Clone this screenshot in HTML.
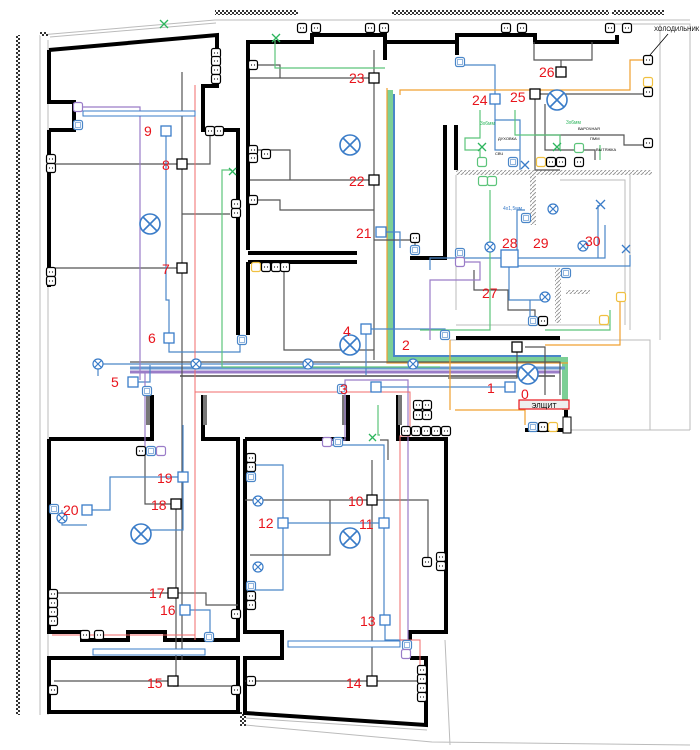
<!DOCTYPE html>
<html><head><meta charset="utf-8"><style>
html,body{margin:0;padding:0;background:#fff}
svg{display:block}
text{font-family:"Liberation Sans","DejaVu Sans",sans-serif}
.n{fill:#e8141c;font-size:14px}
.w{fill:none;stroke:#000;stroke-width:4;stroke-linejoin:miter}
.g{fill:none;stroke:#bbb;stroke-width:1}
.k{fill:none;stroke:#555;stroke-width:1.2}
.b{fill:none;stroke:#4a86c8;stroke-width:1.2}
.gr{fill:none;stroke:#5cc47a;stroke-width:1.2}
.p{fill:none;stroke:#9a7cc8;stroke-width:1.2}
.r{fill:none;stroke:#f26b6b;stroke-width:1}
.o{fill:none;stroke:#f0a030;stroke-width:1.2}
</style></head><body>
<svg width="700" height="750" viewBox="0 0 700 750" xmlns="http://www.w3.org/2000/svg">
<defs>
<pattern id="h" width="4" height="4" patternUnits="userSpaceOnUse"><rect width="4" height="4" fill="#fff"/><rect width="2" height="2" fill="#333"/><rect x="2" y="2" width="2" height="2" fill="#333"/></pattern>
<pattern id="d" width="4" height="4" patternUnits="userSpaceOnUse"><rect width="4" height="4" fill="#fff"/><path d="M0 4L4 0" stroke="#999" stroke-width="1"/></pattern>
<g id="s"><rect x="-4.5" y="-4.5" width="9" height="9" rx="2" fill="#fff" stroke="#000" stroke-width="1.2"/><circle cx="-1.5" cy="0" r=".6"/><circle cx="1.5" cy="0" r=".6"/></g>
<g id="sb"><rect x="-4.5" y="-4.5" width="9" height="9" rx="2" fill="#fff" stroke="#4a86c8" stroke-width="1.2"/><rect x="-2.5" y="-2.5" width="5" height="5" fill="none" stroke="#4a86c8" stroke-width=".6"/></g>
<g id="sp"><rect x="-4.5" y="-4.5" width="9" height="9" rx="2" fill="#fff" stroke="#9a7cc8" stroke-width="1.2"/></g>
<g id="sg"><rect x="-4.5" y="-4.5" width="9" height="9" rx="2" fill="#fff" stroke="#5cc47a" stroke-width="1.2"/></g>
<g id="sy"><rect x="-4.5" y="-4.5" width="9" height="9" rx="2" fill="#fff" stroke="#f0c040" stroke-width="1.2"/></g>
<g id="L"><circle r="10" fill="#fff" stroke="#3a7cc8" stroke-width="1.6"/><path d="M-7-7L7 7M7-7L-7 7" stroke="#3a7cc8" stroke-width="1.6"/></g>
<g id="l"><circle r="5" fill="#fff" stroke="#3a7cc8" stroke-width="1.2"/><path d="M-3.5-3.5L3.5 3.5M3.5-3.5L-3.5 3.5" stroke="#3a7cc8" stroke-width="1.2"/></g>
</defs>
<path class="g" d="M40 35L215 20M50 37L216 23M40 35V715M48 40V715M245 718L427 730M245 725L432 742L690 745M445 640L450 745M215 20H690M612 24H690V430M660 24V340M450 340H650V430M570 430H690"/>
<rect x="16" y="35" width="4" height="680" fill="url(#h)"/>
<rect x="215" y="10" width="83" height="5" fill="url(#h)"/>
<rect x="392" y="10" width="217" height="5" fill="url(#h)"/>
<rect x="612" y="10" width="52" height="5" fill="url(#h)"/>
<rect x="40" y="32" width="8" height="4" fill="url(#h)"/>
<rect x="240" y="712" width="6" height="14" fill="url(#h)"/>
<rect x="456" y="170" width="196" height="5" fill="url(#d)"/>
<rect x="530" y="175" width="6" height="50" fill="url(#d)"/>
<rect x="555" y="268" width="6" height="55" fill="url(#d)"/>
<rect x="566" y="290" width="24" height="4" fill="url(#d)"/>
<path class="g" d="M456 175V310M456 325H610M560 180H625V325M630 175V330"/>
<path class="w" d="M49 130V287M49 50L217 35V86H203V130H238V335M49 50V102H74V130H49"/>
<path class="w" d="M248 250V42H312V35H385V42H457V35M457 42V35H535V42H617V35"/>
<path class="w" d="M248 253H357M248 262H357M248 262V335"/>
<path class="w" d="M385 35V60M312 42V35M445 125V258H410M456 125V170M457 55V42"/>
<path class="w" d="M456 338H560M566 400V430H525"/>
<path class="w" d="M49 439H152V395M203 395V439H238V640H165V632H128V640H82V632H49V439"/>
<path class="w" d="M245 439H348V395M398 395V439H446V632H410V640M245 439V632H282V658H245V713L426 725V658H410"/>
<path class="w" d="M49 658H238V712H49Z"/>
<rect x="146" y="395" width="4" height="30" fill="#777"/><rect x="203" y="395" width="4" height="30" fill="#777"/>
<rect x="342" y="395" width="4" height="30" fill="#777"/><rect x="398" y="395" width="4" height="30" fill="#777"/>
<path d="M390 90V360H565V410" fill="none" stroke="#7ccf95" stroke-width="6"/>
<path d="M394 94V356H561" fill="none" stroke="#4a86c8" stroke-width="2"/>
<path d="M387 88V363H568" fill="none" stroke="#f0a030" stroke-width="1.2"/>
<path d="M130 368H565" fill="none" stroke="#6a9ad0" stroke-width="3"/>
<path d="M130 372H560" fill="none" stroke="#9a7cc8" stroke-width="3"/>
<path d="M180 376H555" fill="none" stroke="#777" stroke-width="2"/>
<path class="k" d="M130 362H560V395"/>
<path class="k" d="M182 72V660M182 164H210V130M50 164H182M50 268H182M182 214H230M176 504V681M54 681H176M145 450V504H176M173 593H54M173 593H206V605H238M173 686H238"/>
<path class="k" d="M374 50V180M374 78H250M252 65H280V78M374 180H250M258 150H290V180H374M374 180V240H415V248M258 200H280V210H374M284 265V350H374M374 200V360"/>
<path class="k" d="M372 460V681M372 500H245M372 500H428V560M330 500V555H250M372 681H245M372 681H420M380 440H388V460"/>
<path class="k" d="M561 60V72M534 42V60H592V42M561 72V60M535 94H645M535 94V170H560M545 104V150H595V160M535 135H624V145H645M517 347V378H448M525 347H545V395"/>
<path class="k" d="M474 270V290H508V310H535V320"/>
<path class="b" d="M166 131V300H169V338M88 114H166M169 338V352H240V340M96 364H340M133 382H150V365M98 364V376"/>
<path class="b" d="M183 477V425M183 477H110V510H87M183 477V530H150M62 510V525H87M183 610H210V632"/>
<path class="b" d="M283 523H384M283 523V465H250M283 523V590H250M384 523V445H330M384 523V620M385 620V640H405"/>
<path class="b" d="M381 232H400V248M366 329H445V335M366 329V375M376 387H510M495 99V150H520V160M495 99V65H462M495 120H520V170"/>
<path class="b" d="M509 258H430V270M509 258H605V225M509 258H598V205M517 258V210H525M509 266H630V255M509 266V300H545M530 300V320"/>
<path class="gr" d="M275 40V68H385M232 170H222V367H440M480 110V138H465V150H480V160M515 110V135H560V150M490 190V330H420M600 145V160M545 330H610V310"/>
<path class="gr" d="M378 405V435H380"/>
<path class="p" d="M80 107H140V380M145 450V372M325 440H345V380H408V640H405M460 262H480V280H430V340"/>
<path class="r" d="M195 85V392H410V436M195 392V640M410 436H400V640H420V700M52 635H195"/>
<path class="o" d="M645 60H630V90H400V95M545 345H620V300M455 410H525V425M450 410V340"/>
<g stroke="#2db55d" stroke-width="1.3" fill="none"><path d="M160 20l8 8M168 20l-8 8M272 34l8 8M280 34l-8 8M229 168l7 7M236 168l-7 7M369 434l7 7M376 434l-7 7M478 143l8 8M486 143l-8 8M553 143l8 8M561 143l-8 8"/></g>
<g stroke="#3a7cc8" stroke-width="1.3" fill="none"><path d="M521 161l8 8M529 161l-8 8M596 200l9 9M605 200l-9 9M622 245l8 8M630 245l-8 8"/></g>
<use href="#L" x="150" y="224"/><use href="#L" x="350" y="145"/><use href="#L" x="350" y="345"/>
<use href="#L" x="141" y="534"/><use href="#L" x="350" y="538"/><use href="#L" x="557" y="100"/><use href="#L" x="528" y="374"/>
<use href="#l" x="98" y="364"/><use href="#l" x="196" y="364"/><use href="#l" x="413" y="364"/><use href="#l" x="308" y="364"/>
<use href="#l" x="490" y="247"/><use href="#l" x="545" y="297"/><use href="#l" x="553" y="209"/><use href="#l" x="583" y="246"/>
<use href="#l" x="258" y="501"/><use href="#l" x="258" y="567"/><use href="#l" x="62" y="518"/>
<use href="#s" x="216" y="53"/><use href="#s" x="216" y="61"/><use href="#s" x="216" y="70"/><use href="#s" x="216" y="79"/>
<use href="#s" x="210" y="131"/><use href="#s" x="219" y="131"/><use href="#s" x="51" y="159"/><use href="#s" x="51" y="168"/>
<use href="#s" x="51" y="272"/><use href="#s" x="51" y="281"/><use href="#s" x="236" y="204"/><use href="#s" x="236" y="213"/>
<use href="#s" x="253" y="65"/><use href="#s" x="253" y="150"/><use href="#s" x="253" y="158"/><use href="#s" x="266" y="154"/><use href="#s" x="253" y="200"/>
<use href="#sy" x="256" y="267"/><use href="#s" x="266" y="267"/><use href="#s" x="276" y="267"/><use href="#s" x="285" y="267"/>
<use href="#s" x="302" y="28"/><use href="#s" x="316" y="28"/><use href="#s" x="370" y="28"/><use href="#s" x="384" y="28"/>
<use href="#s" x="506" y="28"/><use href="#s" x="522" y="28"/><use href="#s" x="610" y="28"/><use href="#s" x="627" y="28"/>
<use href="#s" x="648" y="60"/><use href="#sy" x="648" y="82"/><use href="#s" x="648" y="92"/><use href="#s" x="648" y="143"/>
<use href="#s" x="415" y="238"/><use href="#sb" x="460" y="62"/><use href="#sb" x="415" y="250"/><use href="#sb" x="460" y="253"/><use href="#sp" x="460" y="262"/>
<use href="#sg" x="482" y="162"/><use href="#sb" x="513" y="162"/><use href="#sy" x="541" y="162"/><use href="#s" x="551" y="162"/><use href="#s" x="561" y="162"/><use href="#s" x="579" y="162"/><use href="#sg" x="579" y="148"/>
<use href="#sg" x="483" y="181"/><use href="#sg" x="492" y="181"/><use href="#sb" x="526" y="218"/><use href="#sb" x="566" y="273"/>
<use href="#sb" x="533" y="321"/><use href="#s" x="543" y="321"/><use href="#sy" x="604" y="320"/><use href="#sy" x="621" y="297"/><use href="#sb" x="445" y="335"/>
<use href="#sb" x="242" y="340"/><use href="#sb" x="78" y="125"/><use href="#sp" x="78" y="107"/><use href="#sb" x="147" y="391"/>
<use href="#s" x="418" y="405"/><use href="#s" x="427" y="405"/><use href="#s" x="418" y="415"/><use href="#s" x="427" y="415"/>
<use href="#s" x="406" y="431"/><use href="#s" x="416" y="431"/><use href="#s" x="426" y="431"/><use href="#s" x="436" y="431"/><use href="#s" x="446" y="431"/><use href="#sb" x="342" y="389"/>
<use href="#sb" x="533" y="427"/><use href="#s" x="543" y="427"/><use href="#sy" x="553" y="427"/>
<use href="#s" x="141" y="451"/><use href="#sb" x="151" y="451"/><use href="#sp" x="161" y="451"/><use href="#sb" x="54" y="509"/>
<use href="#s" x="53" y="594"/><use href="#s" x="53" y="603"/><use href="#s" x="53" y="612"/><use href="#s" x="53" y="621"/>
<use href="#s" x="85" y="635"/><use href="#s" x="99" y="635"/><use href="#s" x="236" y="614"/><use href="#sb" x="209" y="637"/>
<use href="#s" x="53" y="690"/><use href="#s" x="236" y="690"/>
<use href="#sp" x="327" y="442"/><use href="#sb" x="338" y="442"/><use href="#s" x="251" y="458"/><use href="#s" x="251" y="467"/><use href="#sb" x="251" y="477"/>
<use href="#sb" x="251" y="586"/><use href="#s" x="251" y="596"/><use href="#s" x="251" y="605"/><use href="#s" x="427" y="562"/><use href="#s" x="441" y="557"/><use href="#s" x="441" y="566"/>
<use href="#sb" x="407" y="645"/><use href="#sp" x="406" y="654"/><use href="#s" x="251" y="681"/>
<use href="#s" x="422" y="670"/><use href="#s" x="422" y="679"/><use href="#s" x="422" y="688"/><use href="#s" x="422" y="697"/>
<rect x="83" y="111" width="112" height="5" fill="#fff" stroke="#3a7cc8"/>
<rect x="93" y="649" width="112" height="6" fill="#fff" stroke="#3a7cc8"/>
<rect x="288" y="641" width="112" height="6" fill="#fff" stroke="#3a7cc8"/>
<g fill="#fff" stroke="#000" stroke-width="1.3">
<rect x="369" y="73" width="10" height="10"/><rect x="369" y="175" width="10" height="10"/><rect x="177" y="159" width="10" height="10"/>
<rect x="177" y="263" width="10" height="10"/><rect x="171" y="499" width="10" height="10"/><rect x="168" y="588" width="10" height="10"/>
<rect x="168" y="676" width="10" height="10"/><rect x="367" y="495" width="10" height="10"/><rect x="367" y="676" width="10" height="10"/>
<rect x="556" y="67" width="10" height="10"/><rect x="530" y="89" width="10" height="10"/><rect x="512" y="342" width="10" height="10"/>
</g>
<g fill="#fff" stroke="#3a7cc8" stroke-width="1.3">
<rect x="161" y="126" width="10" height="10"/><rect x="164" y="333" width="10" height="10"/><rect x="128" y="377" width="10" height="10"/>
<rect x="376" y="227" width="10" height="10"/><rect x="490" y="94" width="10" height="10"/><rect x="178" y="472" width="10" height="10"/>
<rect x="82" y="505" width="10" height="10"/><rect x="278" y="518" width="10" height="10"/><rect x="379" y="518" width="10" height="10"/>
<rect x="380" y="615" width="10" height="10"/><rect x="180" y="605" width="10" height="10"/><rect x="361" y="324" width="10" height="10"/>
<rect x="371" y="382" width="10" height="10"/><rect x="505" y="382" width="10" height="10"/><rect x="501" y="250" width="17" height="17"/>
</g>
<rect x="519" y="400" width="50" height="9" fill="#eee" stroke="#e8141c" stroke-width="1.2"/>
<text x="544" y="408" font-size="7" text-anchor="middle">ЭЛЩИТ</text>
<rect x="563" y="417" width="8" height="16" fill="#fff" stroke="#000"/>
<text x="654" y="31" font-size="6">ХОЛОДИЛЬНИК</text>
<path d="M668 34L650 55" stroke="#000" stroke-width=".8"/>
<text x="480" y="125" font-size="5" fill="#2db55d">3x6мм</text><text x="566" y="124" font-size="5" fill="#2db55d">3x6мм</text>
<text x="498" y="140" font-size="4">ДУХОВКА</text><text x="578" y="130" font-size="4">ВАРОЧНАЯ</text><text x="590" y="140" font-size="4">ПММ</text><text x="596" y="151" font-size="4">ВЫТЯЖКА</text><text x="495" y="155" font-size="4">СВЧ</text>
<text x="503" y="210" font-size="5" fill="#3a7cc8">4x1,5мм</text>
<g class="n">
<text x="521" y="399">0</text><text x="487" y="393">1</text><text x="402" y="350">2</text><text x="340" y="394">3</text><text x="343" y="336">4</text>
<text x="111" y="387">5</text><text x="148" y="343">6</text><text x="162" y="274">7</text><text x="162" y="170">8</text><text x="144" y="136">9</text>
<text x="348" y="506">10</text><text x="359" y="529">11</text><text x="258" y="528">12</text><text x="360" y="626">13</text><text x="346" y="688">14</text>
<text x="147" y="688">15</text><text x="160" y="615">16</text><text x="149" y="598">17</text><text x="151" y="510">18</text><text x="157" y="483">19</text>
<text x="63" y="515">20</text><text x="356" y="238">21</text><text x="349" y="186">22</text><text x="349" y="83">23</text><text x="472" y="105">24</text>
<text x="510" y="102">25</text><text x="539" y="77">26</text><text x="482" y="298">27</text><text x="502" y="248">28</text><text x="533" y="248">29</text><text x="585" y="246">30</text>
</g>
</svg>
</body></html>
